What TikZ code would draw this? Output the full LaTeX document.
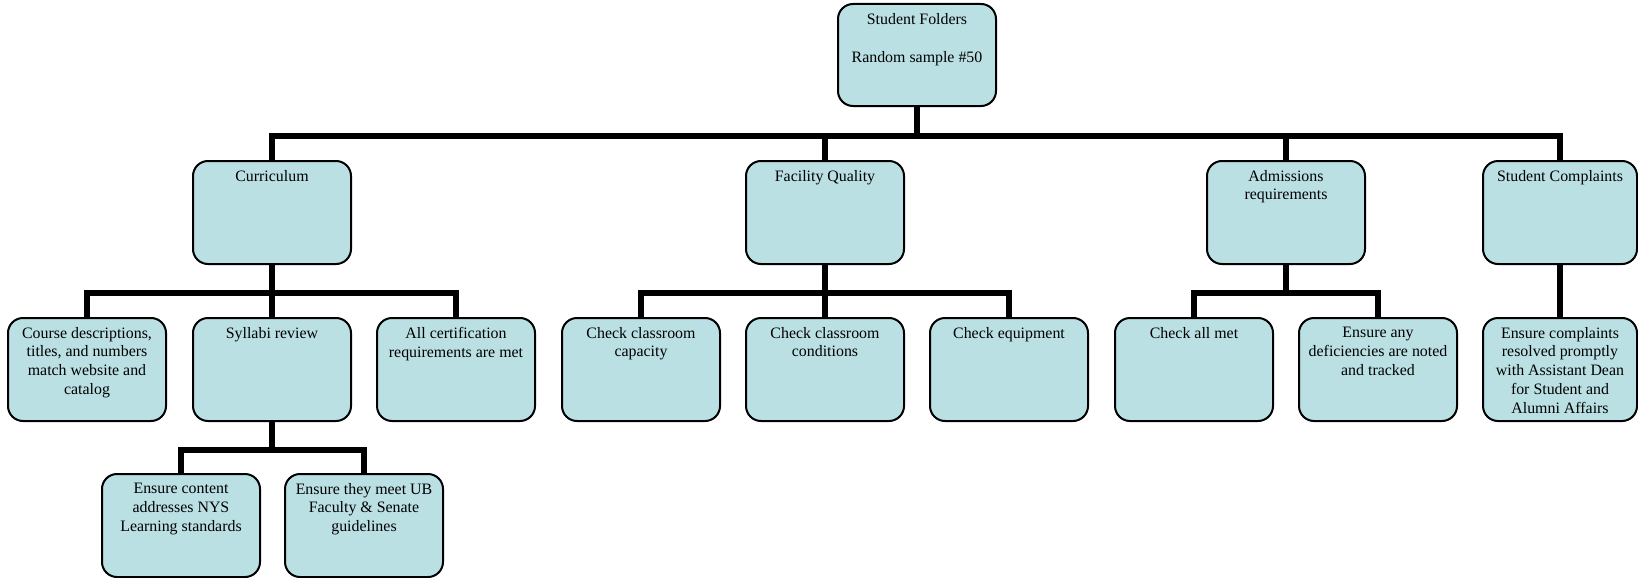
\documentclass[tikz,border=0pt]{standalone}
\usepackage{fontspec}
\setmainfont{Liberation Serif}
\definecolor{boxfill}{RGB}{186,224,228}
\begin{document}
\begin{tikzpicture}[x=1pt,y=-1pt,
  box/.style={draw=black, line width=2pt, rounded corners=15pt, fill=boxfill,
              minimum width=158pt, minimum height=103pt, inner sep=0pt},
  lbl/.style={anchor=north, yshift=-10pt, inner sep=0pt, align=center,
              font=\fontsize{15.9}{18.7}\selectfont, text=black},
  conn/.style={line width=6pt, line join=miter}]
\useasboundingbox (0,0) rectangle (1638,578);
% level 0
\node[box, minimum height=102pt] (root) at (917,55) {};
\node[lbl] (root-t) at (root.north) {Student Folders\\[19.5pt]Random sample \#50};
% level 1
\node[box] (cur) at (272,212.5) {};
\node[lbl] (cur-t) at (cur.north) {Curriculum};
\node[box] (fac) at (825,212.5) {};
\node[lbl] (fac-t) at (fac.north) {Facility Quality};
\node[box] (adm) at (1286,212.5) {};
\node[lbl] (adm-t) at (adm.north) {Admissions\\requirements};
\node[box, minimum width=154pt] (com) at (1560,212.5) {};
\node[lbl] (com-t) at (com.north) {Student Complaints};
% level 2
\node[box] (course) at (87,369.5) {};
\node[lbl] (course-t) at (course.north) {Course descriptions,\\titles, and numbers\\match website and\\catalog};
\node[box] (syl) at (272,369.5) {};
\node[lbl] (syl-t) at (syl.north) {Syllabi review};
\node[box] (cert) at (456,369.5) {};
\node[lbl] (cert-t) at (cert.north) {All certification\\requirements are met};
\node[box] (cap) at (641,369.5) {};
\node[lbl] (cap-t) at (cap.north) {Check classroom\\capacity};
\node[box] (cond) at (825,369.5) {};
\node[lbl] (cond-t) at (cond.north) {Check classroom\\conditions};
\node[box] (equip) at (1009,369.5) {};
\node[lbl] (equip-t) at (equip.north) {Check equipment};
\node[box] (allmet) at (1194,369.5) {};
\node[lbl] (allmet-t) at (allmet.north) {Check all met};
\node[box] (defic) at (1378,369.5) {};
\node[lbl] (defic-t) at (defic.north) {Ensure any\\deficiencies are noted\\and tracked};
\node[box, minimum width=154pt] (comres) at (1560,369.5) {};
\node[lbl] (comres-t) at (comres.north) {Ensure complaints\\resolved promptly\\with Assistant Dean\\for Student and\\Alumni Affairs};
% level 3
\node[box] (cont) at (181,525.5) {};
\node[lbl] (cont-t) at (cont.north) {Ensure content\\addresses NYS\\Learning standards};
\node[box] (ub) at (364,525.5) {};
\node[lbl] (ub-t) at (ub.north) {Ensure they meet UB\\Faculty \& Senate\\guidelines};
% connectors
\coordinate (b0) at (917,136);
\draw[conn] (root.south) -- (b0);
\draw[conn] (b0) -| (cur.north);
\draw[conn] (b0) -| (fac.north);
\draw[conn] (b0) -| (adm.north);
\draw[conn] (b0) -| (com.north);
\coordinate (b1) at (272,293);
\draw[conn] (cur.south) -- (b1);
\draw[conn] (b1) -| (course.north);
\draw[conn] (b1) -- (syl.north);
\draw[conn] (b1) -| (cert.north);
\coordinate (b2) at (825,293);
\draw[conn] (fac.south) -- (b2);
\draw[conn] (b2) -| (cap.north);
\draw[conn] (b2) -- (cond.north);
\draw[conn] (b2) -| (equip.north);
\coordinate (b3) at (1286,293);
\draw[conn] (adm.south) -- (b3);
\draw[conn] (b3) -| (allmet.north);
\draw[conn] (b3) -| (defic.north);
\draw[conn] (com.south) -- (comres.north);
\coordinate (b4) at (272,450);
\draw[conn] (syl.south) -- (b4);
\draw[conn] (b4) -| (cont.north);
\draw[conn] (b4) -| (ub.north);
\end{tikzpicture}
\end{document}
